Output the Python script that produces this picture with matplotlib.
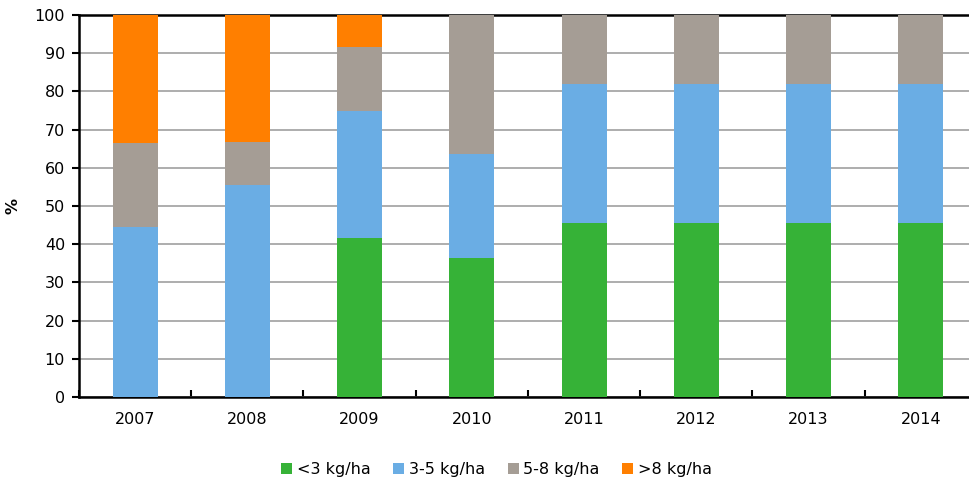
import numpy as np
import matplotlib.pyplot as plt

plt.rcParams['font.family'] = ['DejaVu Sans']

years = ['2007', '2008', '2009', '2010', '2011', '2012', '2013', '2014']
lt3 = [0, 0, 41.7, 36.4, 45.5, 45.5, 45.5, 45.5]
r3_5 = [44.4, 55.6, 33.3, 27.3, 36.4, 36.4, 36.4, 36.4]
r5_8 = [22.2, 11.1, 16.7, 36.4, 18.2, 18.2, 18.2, 18.2]
gt8 = [33.3, 33.3, 8.3, 0, 0, 0, 0, 0]

labels = ['<3 kg/ha', '3-5 kg/ha', '5-8 kg/ha', '>8 kg/ha']
colors = ['#36B237', '#6AADE4', '#A59D95', '#FF7F00']

fig = plt.figure(figsize=(9.7, 4.83), dpi=100)
ax = fig.add_axes([79/970, 1-397/483, 898/970, (397-15)/483])

x = np.arange(len(years))
bottom = np.zeros(len(years))
for vals, lab, col in zip([lt3, r3_5, r5_8, gt8], labels, colors):
    ax.bar(x, vals, 0.4, bottom=bottom, color=col, label=lab, zorder=3)
    bottom += np.array(vals)

ax.set_xlim(-0.5, len(years) - 0.5)
ax.set_ylim(0, 100)
ax.set_yticks(range(0, 101, 10))
ax.yaxis.grid(True, color='#A0A0A0', linewidth=1.2, zorder=0)
ax.set_axisbelow(True)

ax.set_xticks(x)
ax.set_xticklabels(years)
ax.set_xticks(np.arange(-0.5, len(years), 1), minor=True)
ax.tick_params(axis='x', which='major', length=0, pad=11, labelsize=11.5)
ax.tick_params(axis='x', which='minor', length=5, width=1.5, direction='in')
ax.tick_params(axis='y', length=5, width=1.5, labelsize=11.5, pad=5)

for s in ['left', 'bottom', 'top']:
    ax.spines[s].set_linewidth(1.8)
ax.spines['right'].set_visible(False)

ax.set_ylabel('%', fontsize=11.5, fontweight='bold', labelpad=10)

ax.legend(loc='center', bbox_to_anchor=(0.5 - 0.035, -0.19), ncol=4, frameon=False,
          fontsize=11.5, handlelength=0.7, handleheight=0.7, handletextpad=0.3,
          columnspacing=1.4)

fig.savefig('out.png', dpi=100)
